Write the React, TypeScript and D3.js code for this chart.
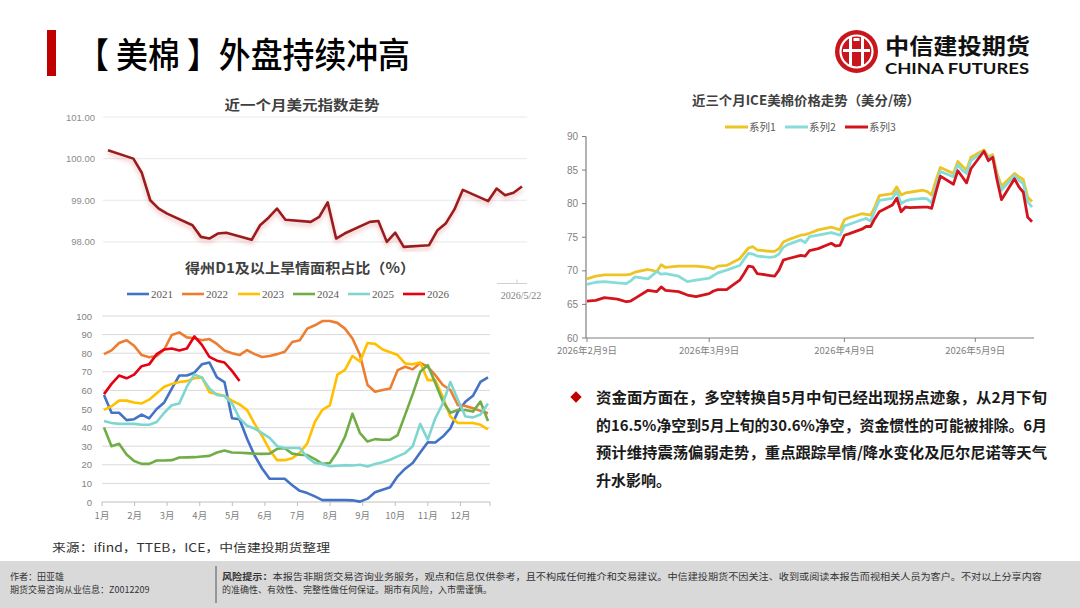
import React from 'react';
import * as d3 from 'd3';

// ---------- Data: US dollar index (last month) ----------
const DXY_DATES = [
  '2026-04-03', '2026-04-06', '2026-04-07', '2026-04-08', '2026-04-09', '2026-04-10',
  '2026-04-13', '2026-04-14', '2026-04-15', '2026-04-16', '2026-04-17',
  '2026-04-20', '2026-04-21', '2026-04-22', '2026-04-23', '2026-04-24',
  '2026-04-27', '2026-04-28', '2026-04-29', '2026-04-30', '2026-05-01',
  '2026-05-04', '2026-05-05', '2026-05-06', '2026-05-07', '2026-05-08',
  '2026-05-11', '2026-05-12', '2026-05-13', '2026-05-14', '2026-05-15',
  '2026-05-18', '2026-05-19', '2026-05-20', '2026-05-21', '2026-05-22',
];
const DXY_VALUES = [
  100.2, 100.0, 99.66, 99.0, 98.8, 98.68,
  98.4, 98.12, 98.08, 98.2, 98.22,
  98.05, 98.4, 98.58, 98.8, 98.53,
  98.48, 98.6, 98.95, 98.08, 98.2,
  98.48, 98.5, 98.0, 98.22, 97.88,
  97.92, 98.28, 98.45, 98.78, 99.25,
  98.98, 99.28, 99.12, 99.18, 99.33,
];
const DXY_TICKS = [98, 99, 100, 101];
const DXY_END_LABEL = '2026/5/22';

// ---------- Data: Texas D1+ drought share (%) ----------
const MONTHS = ['1月', '2月', '3月', '4月', '5月', '6月', '7月', '8月', '9月', '10月', '11月', '12月'];
const DROUGHT_TICKS = [0, 10, 20, 30, 40, 50, 60, 70, 80, 90, 100];
const YEARS = ['2021', '2022', '2023', '2024', '2025', '2026'];
const D2021 = [57.5, 48, 48, 44, 44.5, 47, 45, 50, 53.5, 61, 68, 68, 69.5, 74, 75, 67, 64.5, 45, 44.5, 34, 25, 18, 12.5, 12.5, 12.5, 9, 6, 4.8, 3, 1, 1, 1, 1, 0.9, 0.2, 1.8, 5.2, 6.6, 7.9, 13.8, 17.9, 21, 26.6, 32.1, 32, 35.2, 39.6, 48.6, 53.9, 57.1, 64.6, 67];
const D2022 = [79.5, 81.5, 85.5, 87, 84, 79, 77.8, 78.5, 82, 89.8, 91.2, 88.5, 88, 87, 87.6, 85, 81.5, 80, 79, 81.7, 79.5, 78, 78.5, 79.5, 80.8, 86, 87, 93.2, 95, 97.3, 97.3, 96.3, 93.2, 87.9, 79, 62.9, 59.3, 60.2, 61, 70.9, 72.7, 71.3, 74.8, 72.7, 68.2, 62.9, 60.2, 52, 51.6, 50.4, 49, 47.7];
const D2023 = [49.5, 51.5, 54.5, 54.5, 53.5, 53, 55, 58.5, 62, 63.5, 64.5, 65, 66.5, 67, 59, 58, 57, 54.5, 52.5, 49.5, 42, 35.5, 28, 22.5, 22.5, 23.5, 26.5, 31.5, 43, 49.5, 52, 68.5, 71, 78.5, 75.5, 85.5, 85, 82, 80.5, 79, 74.5, 74, 75, 65.5, 65.5, 56.5, 46, 42.5, 42.5, 42.5, 41.5, 39];
const D2024 = [40, 30, 31.3, 25.5, 22, 20.5, 20.5, 22.3, 22.3, 22.5, 23.9, 24, 24.1, 24.5, 24.8, 26.6, 27.7, 26.6, 26.5, 26.3, 26, 25.9, 26, 28.6, 28.9, 26, 25.4, 25.2, 23, 20.5, 21, 27, 35, 47.5, 37, 32.5, 33.8, 33.5, 33.5, 36, 47, 58, 70, 73.6, 64, 54, 48, 49.5, 49.5, 48.6, 54, 43.5];
const D2025 = [43.5, 42.5, 42, 42, 42, 41.5, 41.5, 43, 48, 52, 53, 62, 68.5, 67, 61, 57.5, 57, 53, 45, 41, 39.5, 37, 34.5, 30, 29, 29, 29, 24, 21, 20.5, 19.2, 19.5, 19.8, 19.6, 20, 19.1, 20.4, 21.4, 22.7, 24.5, 26.3, 30, 42, 33.5, 45, 53, 64.5, 55, 46, 45.5, 47, 53];
const D2026 = [58, 63.5, 68, 66.5, 68.5, 73, 74, 79.5, 82, 82.5, 81.5, 82.5, 89, 84.5, 78, 76, 75, 70.5, 65];

// ---------- Data: ICE cotton (US cents / lb) ----------
const ICE_DATES = [
  '2026-02-09', '2026-02-11', '2026-02-13', '2026-02-16', '2026-02-18', '2026-02-19', '2026-02-20',
  '2026-02-23', '2026-02-25', '2026-02-26', '2026-02-27', '2026-03-02', '2026-03-04', '2026-03-06',
  '2026-03-09', '2026-03-10', '2026-03-11', '2026-03-13', '2026-03-16', '2026-03-17', '2026-03-18',
  '2026-03-19', '2026-03-20', '2026-03-23', '2026-03-24', '2026-03-25', '2026-03-26', '2026-03-27',
  '2026-03-30', '2026-03-31', '2026-04-01', '2026-04-03', '2026-04-06', '2026-04-07', '2026-04-08',
  '2026-04-09', '2026-04-10', '2026-04-13', '2026-04-14', '2026-04-15', '2026-04-16', '2026-04-17',
  '2026-04-20', '2026-04-21', '2026-04-22', '2026-04-23', '2026-04-24', '2026-04-27', '2026-04-28',
  '2026-04-29', '2026-04-30', '2026-05-01', '2026-05-04', '2026-05-05', '2026-05-06', '2026-05-07',
  '2026-05-08', '2026-05-11', '2026-05-12', '2026-05-13', '2026-05-14', '2026-05-15', '2026-05-18',
  '2026-05-19', '2026-05-20', '2026-05-21', '2026-05-22',
];
const ICE_S1 = [68.8, 69.2, 69.4, 69.4, 69.4, 69.5, 69.8, 70.2, 69.9, 70.9, 70.5, 70.7, 70.7, 70.7, 70.5, 70.3, 70.7, 70.8, 71.8, 72.6, 73.4, 73.6, 73.1, 72.9, 72.9, 73.3, 74.3, 74.6, 75.3, 75.4, 75.6, 76.1, 76.5, 76.3, 76.1, 77.6, 77.9, 78.5, 78.4, 78.3, 79.5, 81.2, 81.5, 82.5, 81.3, 81.6, 81.7, 82.0, 81.8, 81.3, 83.5, 85.4, 84.5, 86.3, 85.6, 85.0, 86.9, 88.0, 87.0, 87.3, 84.5, 82.6, 84.5, 84.0, 83.6, 81.0, 80.3];
const ICE_S2 = [68.0, 68.3, 68.4, 68.2, 68.1, 68.5, 69.1, 68.8, 69.9, 69.5, 69.6, 69.2, 68.4, 68.6, 68.9, 69.3, 69.7, 70.1, 70.8, 71.7, 72.6, 72.5, 72.2, 72.0, 72.1, 72.5, 73.5, 73.9, 74.6, 74.2, 75.1, 75.3, 75.7, 75.5, 75.3, 76.7, 76.9, 77.6, 77.8, 77.4, 79.0, 80.5, 80.8, 81.8, 80.0, 80.4, 80.6, 80.8, 80.7, 80.1, 82.5, 84.8, 84.0, 85.8, 85.0, 84.5, 86.4, 87.8, 86.8, 87.0, 84.0, 82.0, 84.2, 83.5, 83.0, 80.3, 79.5];
const ICE_S3 = [65.5, 65.6, 66.0, 65.8, 65.4, 65.5, 65.9, 67.1, 66.9, 67.6, 67.1, 66.9, 66.4, 66.15, 66.6, 67.0, 67.2, 67.2, 68.6, 69.6, 70.7, 70.6, 69.6, 69.3, 69.2, 70.1, 71.6, 71.8, 72.3, 72.2, 73.0, 73.3, 74.1, 73.7, 73.8, 75.3, 75.5, 76.2, 76.6, 76.6, 77.8, 78.8, 79.8, 80.8, 78.8, 79.5, 79.4, 79.5, 79.5, 79.3, 81.8, 84.1, 82.9, 84.9, 84.0, 83.1, 85.2, 87.8, 86.4, 86.9, 83.5, 80.6, 83.7, 82.5, 81.7, 78.0, 77.3];
const ICE_NAMES = ['系列1', '系列2', '系列3'];
const ICE_Y_TICKS = [60, 65, 70, 75, 80, 85, 90];
const ICE_X_TICKS = ['2026-02-09', '2026-03-09', '2026-04-09', '2026-05-09'];

// ---------- Text ----------
const TITLE = '【 美棉 】外盘持续冲高';
const BODY_LINES = [
  '资金面方面在，多空转换自5月中旬已经出现拐点迹象，从2月下旬',
  '的16.5%净空到5月上旬的30.6%净空，资金惯性的可能被排除。6月',
  '预计维持震荡偏弱走势，重点跟踪旱情/降水变化及厄尔尼诺等天气',
  '升水影响。',
];
const SOURCE = '来源：ifind，TTEB，ICE，中信建投期货整理';
const FOOT_LEFT = ['作者：田亚雄', '期货交易咨询从业信息：Z0012209'];
const FOOT_RISK_1 = '本报告非期货交易咨询业务服务，观点和信息仅供参考，且不构成任何推介和交易建议。中信建投期货不因关注、收到或阅读本报告而视相关人员为客户。不对以上分享内容';
const FOOT_RISK_2 = '的准确性、有效性、完整性做任何保证。期市有风险，入市需谨慎。';

const parse = d3.timeParse('%Y-%m-%d');
const CJK = '"Noto Sans CJK SC", "Noto Sans", sans-serif';
const SERIF = '"Liberation Serif", "DejaVu Serif", serif';

export default function App() {
  // ---- DXY chart ----
  const dxyX = d3.scaleTime().domain([parse('2026-04-03')!, parse('2026-05-22')!]).range([108, 522]);
  const dxyY = d3.scaleLinear().domain([97, 101]).range([283.5, 117]);
  const dxyPts = DXY_DATES.map((d, i) => [dxyX(parse(d)!), dxyY(DXY_VALUES[i])] as [number, number]);
  const dxyPath = d3.line()(dxyPts) || '';

  // ---- Drought chart ----
  const drY = d3.scaleLinear().domain([0, 100]).range([502, 316]);
  const drX = d3.scaleLinear().domain([0, 51]).range([104, 488]);
  const monthX = d3.scaleLinear().domain([0, 12]).range([102, 493]);
  const drSeries = [
    { name: YEARS[0], data: D2021, color: '#4472C4' },
    { name: YEARS[1], data: D2022, color: '#ED7D31' },
    { name: YEARS[2], data: D2023, color: '#FFC000' },
    { name: YEARS[3], data: D2024, color: '#70AD47' },
    { name: YEARS[4], data: D2025, color: '#7DD6D0' },
    { name: YEARS[5], data: D2026, color: '#E50012' },
  ];
  const drLine = d3.line<number>().x((_, i) => drX(i)).y((v) => drY(v));
  const legendX = [127, 182, 238, 293, 348, 403];

  // ---- ICE chart ----
  const iceX = d3.scaleTime().domain([parse('2026-02-09')!, parse('2026-05-22')!]).range([587, 1032]);
  const iceY = d3.scaleLinear().domain([60, 90]).range([338, 136.5]);
  const iceSeries = [
    { name: ICE_NAMES[0], data: ICE_S1, color: '#EEC424' },
    { name: ICE_NAMES[1], data: ICE_S2, color: '#86DCD8' },
    { name: ICE_NAMES[2], data: ICE_S3, color: '#D3141C' },
  ];
  const iceLine = d3.line<number>().x((_, i) => iceX(parse(ICE_DATES[i])!)).y((v) => iceY(v));
  const iceFmt = (s: string) => {
    const d = parse(s)!;
    return `${d.getFullYear()}年${d.getMonth() + 1}月${d.getDate()}日`;
  };
  const iceLegendX = [725, 785, 845];

  return (
    <svg width={1080} height={608} style={{ position: 'absolute', left: 0, top: 0, background: '#fff' }}>
      <defs>
        <filter id="glow" x="-5%" y="-20%" width="110%" height="150%">
          <feDropShadow dx="0" dy="3" stdDeviation="2" floodColor="#d04040" floodOpacity="0.35" />
        </filter>
      </defs>
      <rect x={0} y={0} width={1080} height={608} fill="#fff" />

      {/* Title */}
      <rect x={47} y={30} width={9} height={46} fill="#C00000" />
      <text x={77} y={68} fontFamily={CJK} fontSize={35} fontWeight={500} fill="#000"
        textLength={333} lengthAdjust="spacingAndGlyphs">{TITLE}</text>

      {/* Logo */}
      <g>
        <circle cx={856.5} cy={51.5} r={21.5} fill="#C8161D" />
        <circle cx={856.5} cy={51.5} r={16} fill="none" stroke="#fff" strokeWidth={2.2} />
        <rect x={849} y={37} width={3} height={29} fill="#fff" />
        <rect x={861} y={37} width={3} height={29} fill="#fff" />
        <rect x={843} y={49} width={27} height={3} fill="#fff" />
        <rect x={853.5} y={38} width={6} height={3} fill="#fff" />
        <text x={885} y={54} fontFamily={CJK} fontSize={22} fontWeight={700} fill="#111"
          textLength={145} lengthAdjust="spacingAndGlyphs">中信建投期货</text>
        <text x={885} y={73.5} fontFamily='Lato, "Open Sans", sans-serif' fontSize={14.5} fontWeight={700} fill="#111"
          textLength={144} lengthAdjust="spacingAndGlyphs">CHINA FUTURES</text>
      </g>

      {/* ---- DXY chart ---- */}
      <text x={302} y={110} textAnchor="middle" fontFamily={CJK} fontSize={13.5} fontWeight={700} fill="#404040"
        textLength={155} lengthAdjust="spacingAndGlyphs">近一个月美元指数走势</text>
      {DXY_TICKS.map((t) => (
        <g key={t}>
          <line x1={103} x2={527} y1={dxyY(t)} y2={dxyY(t)} stroke="#e8e8e8" strokeWidth={1} />
          <text x={95} y={dxyY(t) + 3.5} textAnchor="end" fontFamily='"Liberation Sans", sans-serif' fontSize={9.5} fill="#8c8c8c">{t.toFixed(2)}</text>
        </g>
      ))}
      <line x1={103} x2={527} y1={dxyY(97)} y2={dxyY(97)} stroke="#d0d0d0" strokeWidth={1} />
      <line x1={517} x2={517} y1={dxyY(97) - 4} y2={dxyY(97)} stroke="#d0d0d0" strokeWidth={1} />
      <text x={521} y={298.5} textAnchor="middle" fontFamily={SERIF} fontSize={10} fill="#7f7f7f">{DXY_END_LABEL}</text>
      <path d={dxyPath} fill="none" stroke="#9B1B1E" strokeWidth={2.6} strokeLinejoin="round" filter="url(#glow)" />

      {/* overlay of drought chart */}
      <rect x={60} y={252} width={437} height={286} fill="#fff" />

      {/* ---- Drought chart ---- */}
      <text x={300} y={273} textAnchor="middle" fontFamily={CJK} fontSize={14} fontWeight={700} fill="#404040"
        textLength={230} lengthAdjust="spacingAndGlyphs">得州D1及以上旱情面积占比（%）</text>
      {drSeries.map((s, i) => (
        <g key={s.name}>
          <line x1={legendX[i]} x2={legendX[i] + 22} y1={294} y2={294} stroke={s.color} strokeWidth={2.6} />
          <text x={legendX[i] + 24} y={298} fontFamily={SERIF} fontSize={11} fill="#595959">{s.name}</text>
        </g>
      ))}
      {DROUGHT_TICKS.map((t) => (
        <g key={t}>
          {t > 0 && <line x1={102} x2={490} y1={drY(t)} y2={drY(t)} stroke="#d9d9d9" strokeWidth={1} />}
          <text x={92} y={drY(t) + 3.5} textAnchor="end" fontFamily='"Liberation Sans", sans-serif' fontSize={9.5} fill="#7f7f7f">{t}</text>
        </g>
      ))}
      <line x1={102} x2={490} y1={drY(0)} y2={drY(0)} stroke="#bfbfbf" strokeWidth={1} />
      {d3.range(13).map((i) => (
        <line key={i} x1={Math.min(monthX(i), 490)} x2={Math.min(monthX(i), 490)} y1={502} y2={506} stroke="#bfbfbf" strokeWidth={1} />
      ))}
      {MONTHS.map((m, i) => (
        <text key={m} x={monthX(i)} y={519} textAnchor="middle" fontFamily={CJK} fontSize={9.5} fill="#7f7f7f">{m}</text>
      ))}
      {drSeries.map((s) => (
        <path key={s.name} d={drLine(s.data) || ''} fill="none" stroke={s.color} strokeWidth={2.6} strokeLinejoin="round" />
      ))}

      {/* ---- ICE chart ---- */}
      <text x={806} y={105} textAnchor="middle" fontFamily={CJK} fontSize={13} fontWeight={700} fill="#404040"
        textLength={228} lengthAdjust="spacingAndGlyphs">近三个月ICE美棉价格走势（美分/磅）</text>
      {iceSeries.map((s, i) => (
        <g key={s.name}>
          <line x1={iceLegendX[i]} x2={iceLegendX[i] + 23} y1={127} y2={127} stroke={s.color} strokeWidth={3} />
          <text x={iceLegendX[i] + 24} y={131} fontFamily={CJK} fontSize={10.5} fill="#595959">{s.name}</text>
        </g>
      ))}
      <line x1={586} x2={586} y1={iceY(90)} y2={iceY(60)} stroke="#7f7f7f" strokeWidth={1.2} />
      {ICE_Y_TICKS.map((t) => (
        <g key={t}>
          <line x1={582} x2={586} y1={iceY(t)} y2={iceY(t)} stroke="#7f7f7f" strokeWidth={1} />
          <text x={578} y={iceY(t) + 3.5} textAnchor="end" fontFamily='"Liberation Sans", sans-serif' fontSize={10} fill="#7f7f7f">{t}</text>
        </g>
      ))}
      <line x1={586} x2={1034} y1={iceY(60)} y2={iceY(60)} stroke="#7f7f7f" strokeWidth={1.2} />
      {ICE_X_TICKS.map((t) => (
        <g key={t}>
          <line x1={iceX(parse(t)!)} x2={iceX(parse(t)!)} y1={338} y2={342} stroke="#7f7f7f" strokeWidth={1} />
          <text x={iceX(parse(t)!)} y={354} textAnchor="middle" fontFamily={CJK} fontSize={9.5} fill="#7f7f7f">{iceFmt(t)}</text>
        </g>
      ))}
      {iceSeries.map((s) => (
        <path key={s.name} d={iceLine(s.data) || ''} fill="none" stroke={s.color} strokeWidth={2.8} strokeLinejoin="round" />
      ))}

      {/* ---- Body text ---- */}
      <rect x={572} y={393} width={8} height={8} fill="#C00000" transform="rotate(45 576 397)" />
      {BODY_LINES.map((l, i) => (
        <text key={i} x={596} y={403 + i * 27.5} fontFamily={CJK} fontSize={15} fontWeight={700} fill="#1a1a1a"
          {...(i < 3 ? { textLength: 451, lengthAdjust: 'spacingAndGlyphs' } : {})}>{l}</text>
      ))}

      {/* ---- Source ---- */}
      <text x={52} y={552} fontFamily={CJK} fontSize={11.5} fill="#333" textLength={278} lengthAdjust="spacingAndGlyphs">{SOURCE}</text>

      {/* ---- Footer ---- */}
      <rect x={0} y={561} width={1080} height={47} fill="#D9D9D9" />
      <text x={10} y={580} fontFamily={CJK} fontSize={9} fill="#333">{FOOT_LEFT[0]}</text>
      <text x={10} y={593} fontFamily={CJK} fontSize={9} fill="#333">{FOOT_LEFT[1]}</text>
      <line x1={216} x2={216} y1={566} y2={603} stroke="#555" strokeWidth={1} />
      <text x={222} y={580} fontFamily={CJK} fontSize={9} fill="#333" textLength={820} lengthAdjust="spacingAndGlyphs">
        <tspan fontWeight={700}>风险提示：</tspan>{FOOT_RISK_1}
      </text>
      <text x={222} y={593} fontFamily={CJK} fontSize={9} fill="#333">{FOOT_RISK_2}</text>
    </svg>
  );
}
